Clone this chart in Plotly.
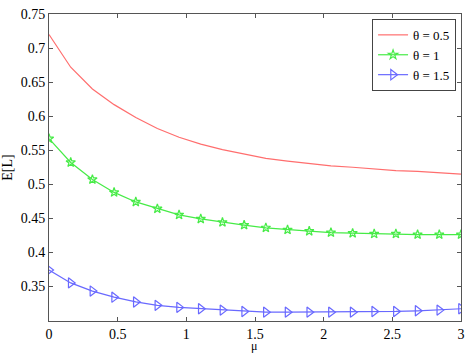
import plotly.graph_objects as go

mu = [0.0, 0.158, 0.316, 0.474, 0.632, 0.789, 0.947, 1.105, 1.263, 1.421,
      1.579, 1.737, 1.895, 2.053, 2.211, 2.368, 2.526, 2.684, 2.842, 3.0]
el_theta_05 = [0.720, 0.672, 0.640, 0.617, 0.598, 0.582, 0.569, 0.559, 0.551, 0.544,
               0.538, 0.534, 0.530, 0.527, 0.525, 0.522, 0.520, 0.519, 0.517, 0.515]
el_theta_1 = [0.567, 0.532, 0.507, 0.488, 0.474, 0.464, 0.455, 0.449, 0.444, 0.440,
              0.436, 0.433, 0.431, 0.429, 0.428, 0.427, 0.427, 0.426, 0.426, 0.426]
el_theta_15 = [0.374, 0.355, 0.343, 0.334, 0.327, 0.322, 0.319, 0.317, 0.315, 0.313,
               0.312, 0.312, 0.312, 0.312, 0.312, 0.313, 0.313, 0.314, 0.315, 0.317]
names = ["θ = 0.5", "θ = 1", "θ = 1.5"]
x_ticks = [0, 0.5, 1, 1.5, 2, 2.5, 3]
y_ticks = [0.35, 0.4, 0.45, 0.5, 0.55, 0.6, 0.65, 0.7, 0.75]

font = "Liberation Serif"

fig = go.Figure()
fig.add_trace(go.Scatter(x=mu, y=el_theta_05, mode="lines", name=names[0],
                         line=dict(color="rgb(255,110,110)", width=1.2)))
fig.add_trace(go.Scatter(x=mu, y=el_theta_1, mode="lines+markers", name=names[1],
                         line=dict(color="rgb(70,235,70)", width=1.2),
                         marker=dict(symbol="star-open", size=7,
                                     line=dict(color="rgb(70,235,70)", width=1.2))))
fig.add_trace(go.Scatter(x=mu, y=el_theta_15, mode="lines+markers", name=names[2],
                         line=dict(color="rgb(105,105,255)", width=1.2),
                         marker=dict(symbol="triangle-right-open", size=9,
                                     line=dict(color="rgb(105,105,255)", width=1.2))))

axis_common = dict(showline=True, mirror="ticks", linecolor="#555", linewidth=1,
                   ticks="inside", ticklen=4, tickcolor="#555", showgrid=False,
                   zeroline=False, tickfont=dict(family=font, size=14, color="black"))

fig.update_xaxes(range=[-0.0001, 3.0001], tickvals=x_ticks,
                 ticktext=[str(t) for t in x_ticks], **axis_common)
fig.update_yaxes(range=[0.299, 0.7502], tickvals=y_ticks,
                 ticktext=["%g" % t for t in y_ticks],
                 title=dict(text="E[L]", font=dict(family=font, size=14, color="black"),
                            standoff=4),
                 **axis_common)

fig.add_annotation(text="μ", xref="paper", yref="paper", x=0.498, y=-0.081,
                   xanchor="center", yanchor="middle", showarrow=False, borderpad=0,
                   font=dict(family=font, size=12, color="black"))

fig.update_layout(
    width=471, height=354,
    margin=dict(l=47, r=7, t=9, b=33),
    paper_bgcolor="white", plot_bgcolor="white",
    font=dict(family=font, size=14, color="black"),
    legend=dict(x=0.988, y=0.984, xanchor="right", yanchor="top",
                bgcolor="white", bordercolor="#444", borderwidth=1,
                font=dict(family=font, size=13, color="black"),
                tracegroupgap=0, itemwidth=30),
)

fig.write_html("out.html", config={"displayModeBar": False},
               post_script="document.body.style.margin='0';document.body.style.padding='0';")
